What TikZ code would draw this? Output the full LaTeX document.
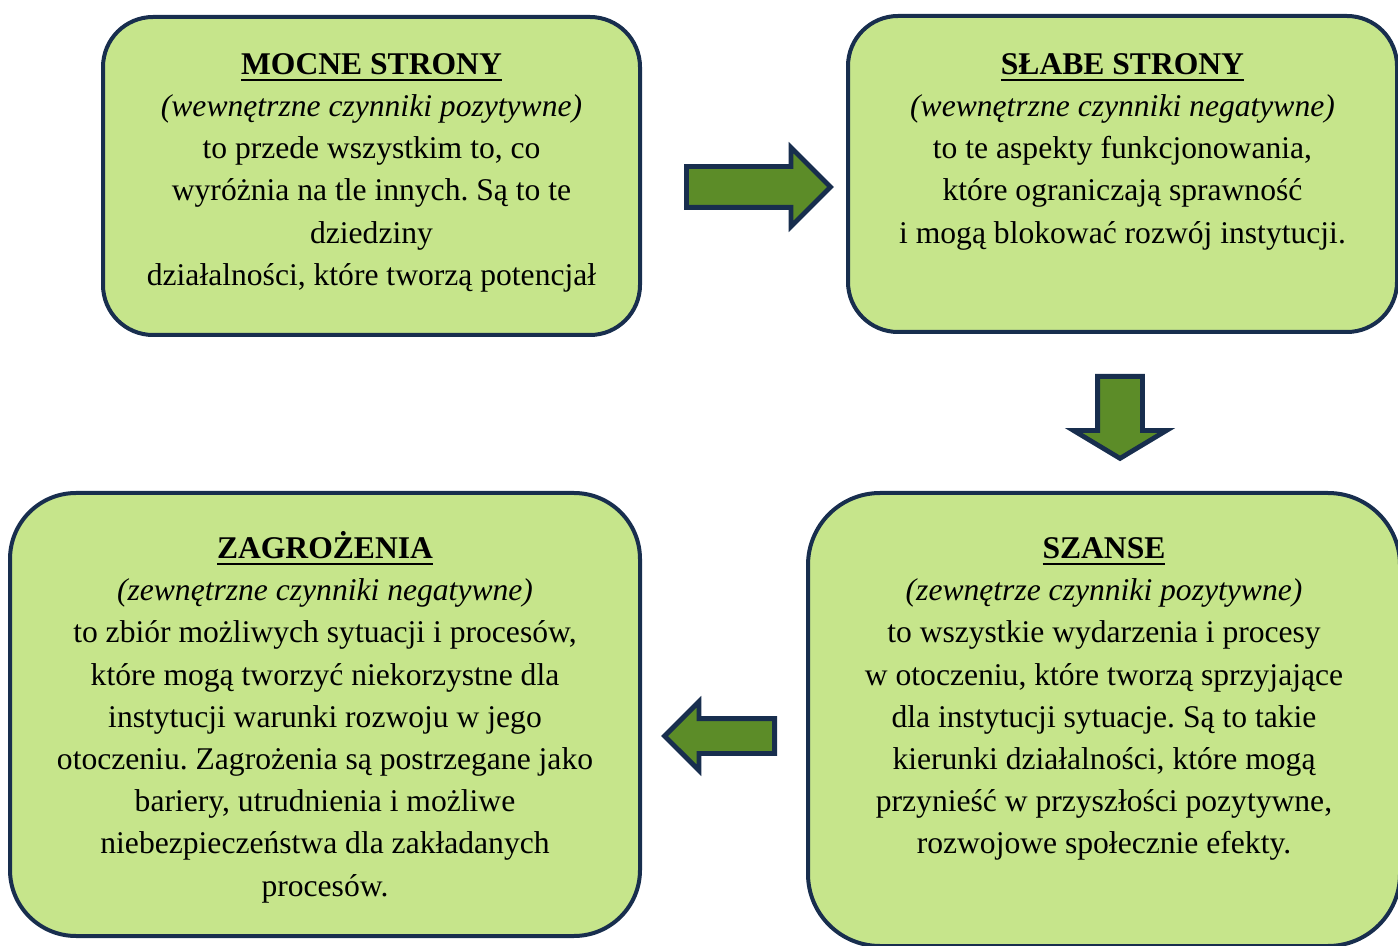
\documentclass[tikz,border=0pt]{standalone}
\usepackage{fontspec}
\setmainfont{Liberation Serif}
\usetikzlibrary{shapes.arrows}
\frenchspacing

\definecolor{panelfill}{RGB}{198,229,139}
\definecolor{panelline}{RGB}{24,46,78}
\definecolor{arrowfill}{RGB}{92,140,40}

% underlined bold heading, with a strut so every first line has the same height
\newcommand{\naglowek}[1]{\rule{0pt}{14pt}\sbox0{\textbf{#1}}\rlap{\rule[-3.2pt]{\wd0}{1pt}}\usebox0}

\tikzset{
  panel/.style={draw=panelline, line width=2pt, fill=panelfill, rounded corners=#1},
  panel/.default=25pt,
  body/.style={anchor=north, align=center, inner sep=0pt,
    font=\fontsize{15.8}{21.1}\selectfont},
  bigarrow/.style={single arrow, draw=panelline, line width=2.4pt, fill=arrowfill,
    anchor=tail}
}

\begin{document}
\begin{tikzpicture}[x=0.5pt, y=-0.5pt]
  \useasboundingbox (0,0) rectangle (1398,946);
  \clip (0,0) rectangle (1398,946);

  % the four panels
  \node[panel, minimum width=268.5pt, minimum height=159pt] (mocne) at (371.5,176) {};
  \node[panel, minimum width=274.5pt, minimum height=158pt] (slabe) at (1122.5,174) {};
  \node[panel=33pt, minimum width=315pt, minimum height=221.5pt] (zagrozenia) at (325,714.5) {};
  \node[panel=36pt, minimum width=296pt, minimum height=226.5pt] (szanse) at (1104,719.5) {};

  % texts
  \node[body] (mocnetxt) at ([yshift=-15.5pt]mocne.north) {\naglowek{MOCNE STRONY}\\
    \textit{(wewnętrzne czynniki pozytywne)}\\
    to przede wszystkim to, co\\
    wyróżnia na tle innych. Są to te\\
    dziedziny\\
    działalności, które tworzą potencjał};
  \node[body] (slabetxt) at ([yshift=-16pt]slabe.north) {\naglowek{SŁABE STRONY}\\
    \textit{(wewnętrzne czynniki negatywne)}\\
    to te aspekty funkcjonowania,\\
    które ograniczają sprawność\\
    i mogą blokować rozwój instytucji.};
  \node[body] (zagrozeniatxt) at ([yshift=-19.5pt]zagrozenia.north) {\naglowek{ZAGROŻENIA}\\
    \textit{(zewnętrzne czynniki negatywne)}\\
    to zbiór możliwych sytuacji i procesów,\\
    które mogą tworzyć niekorzystne dla\\
    instytucji warunki rozwoju w jego\\
    otoczeniu. Zagrożenia są postrzegane jako\\
    bariery, utrudnienia i możliwe\\
    niebezpieczeństwa dla zakładanych\\
    procesów.};
  \node[body] (szansetxt) at ([yshift=-19.5pt]szanse.north) {\naglowek{SZANSE}\\
    \textit{(zewnętrze czynniki pozytywne)}\\
    to wszystkie wydarzenia i procesy\\
    w otoczeniu, które tworzą sprzyjające\\
    dla instytucji sytuacje. Są to takie\\
    kierunki działalności, które mogą\\
    przynieść w przyszłości pozytywne,\\
    rozwojowe społecznie efekty.};

  % block arrows
  \node[bigarrow, inner xsep=0pt, inner ysep=9pt, single arrow head extend=9.5pt,
    single arrow tip angle=90, minimum height=72pt] (strzalka1) at (684,187) {};
  \node[bigarrow, inner ysep=0pt, inner xsep=10pt, single arrow head extend=12pt,
    single arrow tip angle=118, minimum height=41pt, shape border rotate=270] (strzalka2) at (1120,374) {};
  \node[bigarrow, inner xsep=0pt, inner ysep=7.5pt, single arrow head extend=8.5pt,
    single arrow tip angle=90, minimum height=55pt, shape border rotate=180] (strzalka3) at (777,736) {};
\end{tikzpicture}
\end{document}
